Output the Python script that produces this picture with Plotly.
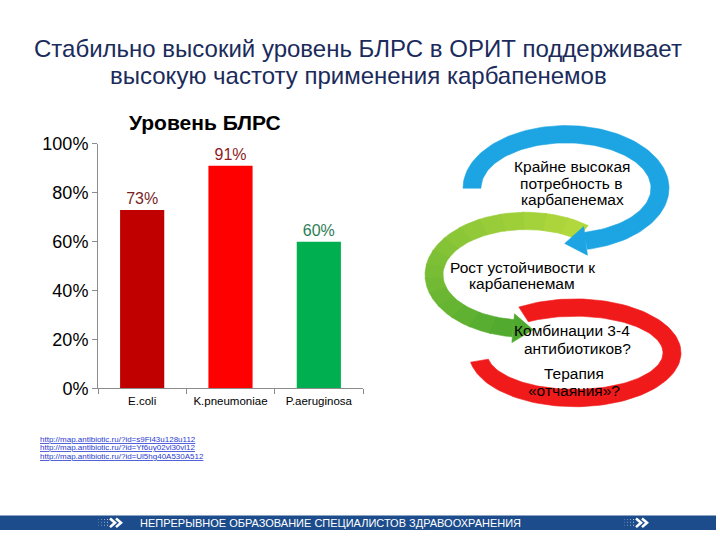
import numpy as np
import plotly.graph_objects as go

W, H = 720, 540

# ---------------- data ----------------
title_lines = ["Стабильно высокий уровень БЛРС в ОРИТ поддерживает",
               "высокую частоту применения карбапенемов"]
chart_title = "Уровень БЛРС"
categories = ["E.coli", "K.pneumoniae", "P.aeruginosa"]
esbl_values = [0.73, 0.91, 0.60]
value_labels = ["73%", "91%", "60%"]
bar_colors = ["#C00000", "#FF0000", "#00B050"]
label_colors = ["#7A1F1F", "#8E1C1C", "#2E7D57"]
y_tick_vals = [0, 0.2, 0.4, 0.6, 0.8, 1.0]
y_tick_text = ["0%", "20%", "40%", "60%", "80%", "100%"]

cycle_lines = [
    ("Крайне высокая", 572, 163),
    ("потребность в", 571, 180),
    ("карбапенемах", 572, 197),
    ("Рост устойчивости к", 522, 267),
    ("карбапенемам", 522, 284),
    ("Комбинации 3-4", 572, 333),
    ("антибиотиков?", 577, 351),
    ("Терапия", 574, 377),
    ("«отчаяния»?", 574, 395),
]
source_links = [
    "http://map.antibiotic.ru/?id=s9Fl43u128u112",
    "http://map.antibiotic.ru/?id=Yf6uy02vl30vl12",
    "http://map.antibiotic.ru/?id=Ul5hg40A530A512",
]
footer_text = "НЕПРЕРЫВНОЕ ОБРАЗОВАНИЕ СПЕЦИАЛИСТОВ ЗДРАВООХРАНЕНИЯ"

FONT = "Liberation Sans, Arial, sans-serif"


def px_x(x):
    return x / W


def px_y(y):
    return 1 - y / H


fig = go.Figure()

# ---------------- bar chart ----------------
fig.add_trace(go.Bar(
    x=categories, y=esbl_values,
    marker=dict(color=bar_colors, line=dict(width=0)),
    text=value_labels, textposition="outside",
    textfont=dict(size=16, color=label_colors, family=FONT),
    cliponaxis=False, hoverinfo="skip", showlegend=False,
    xaxis="x", yaxis="y",
))

# ---------------- cycle diagram (pixel-space overlay axes) ----------------
def arc_band(cx, cy, rx, ry, w, t0, t1, n=120):
    t = np.radians(np.linspace(t0, t1, n))
    xo = cx + rx * np.cos(t)
    yo = cy - ry * np.sin(t)
    xi = cx + (rx - w) * np.cos(t)
    yi = cy - (ry - w) * np.sin(t)
    xs = np.concatenate([xo, xi[::-1], xo[:1]])
    ys = np.concatenate([yo, yi[::-1], yo[:1]])
    return xs, ys


def arrow_head(cx, cy, rx, ry, w, t_end, direction, head_len, head_half):
    rmx, rmy = rx - w / 2, ry - w / 2
    t = np.radians(t_end)
    px = cx + rmx * np.cos(t)
    py = cy - rmy * np.sin(t)
    tx = -rmx * np.sin(t) * direction
    ty = -rmy * np.cos(t) * direction
    nrm = np.hypot(tx, ty)
    tx, ty = tx / nrm, ty / nrm
    nx, ny = -ty, tx
    xs = [px + nx * head_half, px + tx * head_len, px - nx * head_half, px + nx * head_half]
    ys = [py + ny * head_half, py + ty * head_len, py - ny * head_half, py + ny * head_half]
    return xs, ys


def hex_to_rgb(h):
    h = h.lstrip("#")
    return tuple(int(h[i:i + 2], 16) for i in (0, 2, 4))


def mix(c1, c2, f):
    a, b = hex_to_rgb(c1), hex_to_rgb(c2)
    return "rgb(%d,%d,%d)" % tuple(round(a[i] + (b[i] - a[i]) * f) for i in range(3))


def add_poly(xs, ys, color):
    fig.add_trace(go.Scatter(
        x=list(xs), y=list(ys), mode="lines", fill="toself",
        fillcolor=color, line=dict(width=0.6, color=color),
        hoverinfo="skip", showlegend=False, xaxis="x2", yaxis="y2",
    ))


# red arc (clockwise, from top to left)
red = dict(cx=575, cy=356, rx=106, ry=56, w=18)
xs, ys = arc_band(red["cx"], red["cy"], red["rx"], red["ry"], red["w"], 122, -170)
add_poly(xs, ys, "#F01A1A")

# green arc (counter-clockwise, gradient), ending in arrow
green = dict(cx=526, cy=275, rx=101, ry=65, w=18)
g0, g1 = 52, 262
nseg = 16
edges = np.linspace(g0, g1, nseg + 1)
for i in range(nseg):
    xs, ys = arc_band(green["cx"], green["cy"], green["rx"], green["ry"], green["w"],
                      edges[i], edges[i + 1] + (0.6 if i < nseg - 1 else 0), n=20)
    add_poly(xs, ys, mix("#B4DA3C", "#4FA92F", (i + 0.5) / nseg))
xs, ys = arrow_head(green["cx"], green["cy"], green["rx"], green["ry"], green["w"], g1, 1, 20, 15)
add_poly(xs, ys, mix("#B4DA3C", "#4FA92F", 1.0))

# blue arc (clockwise), ending in arrow
blue = dict(cx=566, cy=185, rx=103, ry=65, w=18)
xs, ys = arc_band(blue["cx"], blue["cy"], blue["rx"], blue["ry"], blue["w"], 180, -78)
add_poly(xs, ys, "#1DA4E2")
xs, ys = arrow_head(blue["cx"], blue["cy"], blue["rx"], blue["ry"], blue["w"], -78, -1, 21, 15)
add_poly(xs, ys, "#1DA4E2")

# ---------------- layout ----------------
annotations = []
for i, line in enumerate(title_lines):
    annotations.append(dict(text=line, x=358, y=40 + i * 28, xref="x2", yref="y2", showarrow=False,
                            font=dict(size=24, color="#1B2B5B", family=FONT),
                            xanchor="center", yanchor="middle"))
annotations.append(dict(text="<b>" + chart_title + "</b>", x=205, y=117, xref="x2", yref="y2",
                        showarrow=False, font=dict(size=21, color="black", family=FONT),
                        xanchor="center", yanchor="middle"))
for text, x, y in cycle_lines:
    annotations.append(dict(text=text, x=x, y=y, xref="x2", yref="y2", showarrow=False,
                            font=dict(size=15.5, color="black", family=FONT),
                            xanchor="center", yanchor="middle"))
annotations.append(dict(text=footer_text, x=138, y=533, xref="x2", yref="y2", showarrow=False,
                        font=dict(size=11, color="white", family=FONT),
                        xanchor="left", yanchor="middle"))
for i, link in enumerate(source_links):
    annotations.append(dict(text="<u>" + link + "</u>", x=38, y=446 + i * 8.8, xref="x2", yref="y2",
                            showarrow=False, font=dict(size=8, color="#2A3BD0", family=FONT),
                            xanchor="left", yanchor="middle"))

shapes = [
    dict(type="rect", xref="paper", yref="paper", x0=0, x1=px_x(716), y0=px_y(540), y1=px_y(525),
         fillcolor="#1C4C8B", line=dict(width=0), layer="below"),
]
# chevrons in footer (left icon and right icon)
for x0 in (110, 636):
    for dx in (0, 6):
        xa = x0 + dx
        shapes.append(dict(type="path", xref="x2", yref="y2",
                           path=f"M {xa},{528} L {xa + 5},{532.5} L {xa},{537}",
                           line=dict(color="white", width=2.6)))
    for k in range(4):
        for j in range(3):
            shapes.append(dict(type="rect", xref="x2", yref="y2",
                               x0=x0 - 12 + k * 3, x1=x0 - 11 + k * 3,
                               y0=528.5 + j * 3, y1=529.5 + j * 3,
                               fillcolor="rgba(255,255,255,%.2f)" % (0.25 + 0.15 * k),
                               line=dict(width=0)))

fig.update_layout(
    width=W, height=H,
    margin=dict(l=0, r=0, t=0, b=0),
    paper_bgcolor="white", plot_bgcolor="rgba(0,0,0,0)",
    bargap=0.5,
    showlegend=False,
    font=dict(family=FONT, color="black"),
    xaxis=dict(domain=[98 / W, 363 / W], showline=True, linecolor="#8C8C8C", linewidth=1,
               ticks="outside", tickson="boundaries", ticklen=5, tickcolor="#8C8C8C",
               tickfont=dict(size=11.5, color="black", family=FONT), showgrid=False,
               ticklabelstandoff=2,
               zeroline=False, fixedrange=True, anchor="y"),
    yaxis=dict(domain=[(H - 393) / H, (H - 139) / H], range=[0, 1.0], showline=True,
               linecolor="#8C8C8C", linewidth=1, ticks="outside", ticklen=5, tickcolor="#8C8C8C",
               tickvals=y_tick_vals, ticktext=y_tick_text,
               tickfont=dict(size=18, color="black", family=FONT), showgrid=False,
               zeroline=False, fixedrange=True, anchor="x"),
    xaxis2=dict(domain=[0, 1], range=[0, W], visible=False, fixedrange=True, anchor="y2"),
    yaxis2=dict(domain=[0, 1], range=[H, 0], visible=False, fixedrange=True, anchor="x2"),
    annotations=annotations,
    shapes=shapes,
)

fig.write_html("out.html", config=dict(displayModeBar=False),
               post_script="document.body.style.margin='0';document.body.style.padding='0';")
